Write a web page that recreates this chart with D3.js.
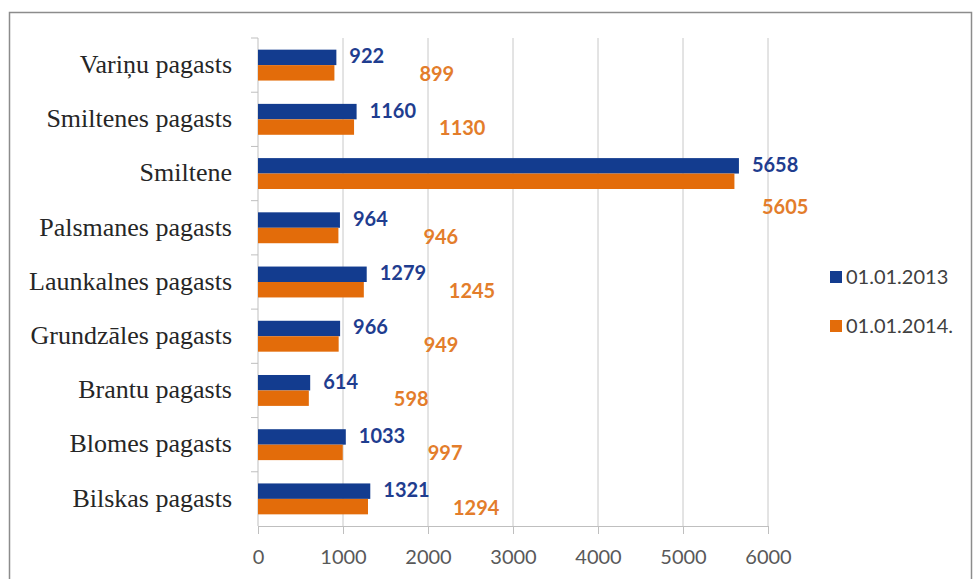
<!DOCTYPE html>
<html><head>
<meta charset="utf-8">
<title>Iedzīvotāju skaits</title>
<style>
  body {margin:0; background:#fff;}
  svg {display:block;}
</style>
</head>
<body>
<script src="https://d3js.org/d3.v7.min.js"></script>
<script>
var width = 974, height = 579;

// dati
var categories = ["Variņu pagasts","Smiltenes pagasts","Smiltene","Palsmanes pagasts","Launkalnes pagasts","Grundzāles pagasts","Brantu pagasts","Blomes pagasts","Bilskas pagasts"];
var values2013 = [922,1160,5658,964,1279,966,614,1033,1321];
var values2014 = [899,1130,5605,946,1245,949,598,997,1294];
var seriesNames = ["01.01.2013","01.01.2014."];
var xTicks = [0,1000,2000,3000,4000,5000,6000];

var colors = ["#133c8f","#e36c0a"];
var labelColors = ["#1f3d8f","#e37d2b"];

var margin = {left:258, top:38, right:206, bottom:53};
var plotW = width - margin.left - margin.right;   // 510
var plotH = height - margin.top - margin.bottom;  // 488

var svg = d3.select("body").append("svg")
    .attr("width", width)
    .attr("height", height);

// ramis
svg.append("rect")
    .attr("x", 9.5).attr("y", 12.5)
    .attr("width", 962).attr("height", 600)
    .attr("fill", "none")
    .attr("stroke", "#8c8c8c")
    .attr("stroke-width", 1.5);

var g = svg.append("g")
    .attr("transform", "translate(" + margin.left + "," + margin.top + ")");

var x = d3.scaleLinear().domain([0,6000]).range([0, plotW]);
var y = d3.scaleBand().domain(categories).range([0, plotH]).paddingInner(0.43).paddingOuter(0.215);
var yCat = d3.scaleBand().domain(categories).range([0, plotH]);
var sub = d3.scaleBand().domain([0,1]).range([0, y.bandwidth()]);

var numFont = "Lato, 'Open Sans', sans-serif";

// režģa līnijas
g.selectAll(".grid").data(xTicks.slice(1))
  .enter().append("line")
    .attr("x1", function(d){return x(d);})
    .attr("x2", function(d){return x(d);})
    .attr("y1", 0).attr("y2", plotH)
    .attr("stroke", "#c8c8c8")
    .attr("stroke-width", 1);

// x ass
var xAxis = g.append("g")
    .attr("transform", "translate(0," + plotH + ")")
    .call(d3.axisBottom(x).tickValues(xTicks).tickSize(8).tickPadding(16).tickFormat(d3.format("d")));
xAxis.select(".domain").attr("stroke", "#bfbfbf");
xAxis.selectAll(".tick line").attr("stroke", "#bfbfbf");
xAxis.selectAll("text")
    .attr("fill", "#595959")
    .style("font-family", numFont)
    .style("font-size", "20px");

// y ass līnija un iedaļas
g.append("line")
    .attr("x1", 0).attr("x2", 0)
    .attr("y1", 0).attr("y2", plotH)
    .attr("stroke", "#bfbfbf");
g.selectAll(".ytick").data(categories)
  .enter().append("line")
    .attr("x1", -7).attr("x2", 0)
    .attr("y1", function(d){return yCat(d);})
    .attr("y2", function(d){return yCat(d);})
    .attr("stroke", "#bfbfbf");

// kategoriju nosaukumi
g.selectAll(".cat").data(categories)
  .enter().append("text")
    .attr("x", -26)
    .attr("y", function(d){return yCat(d) + yCat.bandwidth()/2;})
    .attr("dy", "0.3em")
    .attr("text-anchor", "end")
    .attr("fill", "#262626")
    .style("font-family", "'Liberation Serif', 'Times New Roman', serif")
    .style("font-size", "26px")
    .text(function(d){return d;});

var series = [values2013, values2014];

series.forEach(function(vals, s) {
  g.selectAll(".bar" + s).data(vals)
    .enter().append("rect")
      .attr("x", 0)
      .attr("y", function(d,i){return y(categories[i]) + sub(s);})
      .attr("width", function(d){return x(d);})
      .attr("height", sub.bandwidth())
      .attr("fill", colors[s]);
});

// vērtību etiķetes
g.selectAll(".lab0").data(values2013)
  .enter().append("text")
    .attr("x", function(d){return x(d) + 13;})
    .attr("y", function(d,i){return y(categories[i]) + sub(0) + sub.bandwidth()/2;})
    .attr("dy", "0.3em")
    .attr("fill", labelColors[0])
    .style("font-family", numFont)
    .style("font-weight", "bold")
    .style("font-size", "20px")
    .text(function(d){return d;});

g.selectAll(".lab1").data(values2014)
  .enter().append("text")
    .attr("x", function(d){return Math.min(x(d) + 85, plotW - 6);})
    .attr("y", function(d,i){
      var cy = y(categories[i]) + sub(1) + sub.bandwidth()/2 + 1;
      return (x(d) + 85 > plotW - 6) ? cy + 25 : cy;
    })
    .attr("dy", "0.35em")
    .attr("fill", labelColors[1])
    .style("font-family", numFont)
    .style("font-weight", "bold")
    .style("font-size", "20px")
    .text(function(d){return d;});

// leģenda
var legend = svg.selectAll(".legend").data(seriesNames)
  .enter().append("g")
    .attr("transform", function(d,i){return "translate(830," + (277 + i*49) + ")";});
legend.append("rect")
    .attr("x", 0).attr("y", -6)
    .attr("width", 12).attr("height", 12)
    .attr("fill", function(d,i){return colors[i];});
legend.append("text")
    .attr("x", 16).attr("y", 0)
    .attr("dy", "0.36em")
    .attr("fill", "#404040")
    .style("font-family", numFont)
    .style("font-size", "20px")
    .text(function(d){return d;});
</script>
</body></html>
